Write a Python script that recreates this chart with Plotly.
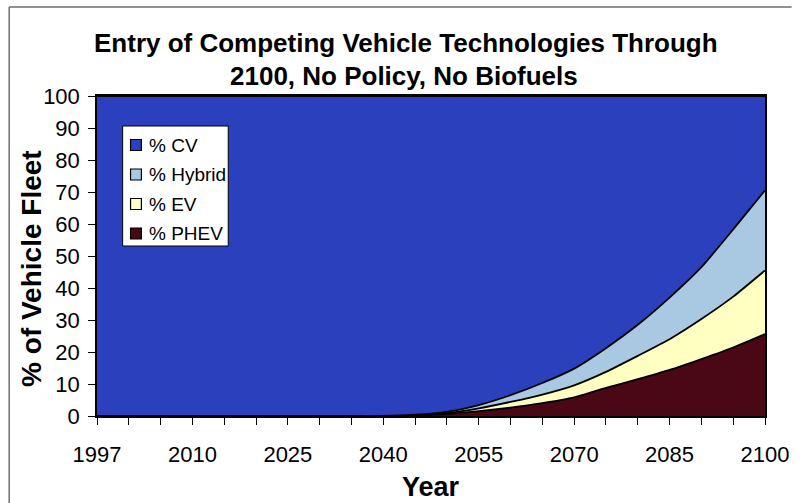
import plotly.graph_objects as go

# Fleet shares (%) by year, stacked from PHEV at the bottom up to CV
years = [1997, 2000, 2005, 2010, 2015, 2020, 2025, 2030, 2035, 2040, 2045,
         2050, 2055, 2060, 2065, 2070, 2075, 2080, 2085, 2090, 2095, 2100]
pct_cv = [100, 100, 100, 100, 100, 100, 100, 100, 100, 100, 99.6,
          98.7, 96.6, 93.5, 89.7, 85.2, 78.8, 71.5, 63.0, 53.5, 41.7, 29.5]
pct_hybrid = [0, 0, 0, 0, 0, 0, 0, 0, 0, 0, 0.1,
              0.4, 1.0, 2.1, 3.6, 5.2, 7.4, 9.7, 13.0, 16.2, 21.0, 25.0]
pct_ev = [0, 0, 0, 0, 0, 0, 0, 0, 0, 0, 0.1,
          0.3, 0.9, 1.8, 2.7, 3.8, 5.0, 7.3, 9.6, 12.5, 15.9, 19.9]
pct_phev = [0, 0, 0, 0, 0, 0, 0, 0, 0, 0, 0.2,
            0.6, 1.5, 2.6, 4.0, 5.8, 8.8, 11.5, 14.4, 17.8, 21.4, 25.6]

labeled_years = [1997, 2010, 2025, 2040, 2055, 2070, 2085, 2100]
y_ticks = [0, 10, 20, 30, 40, 50, 60, 70, 80, 90, 100]

# bottom-to-top stacking order
series = [
    ("% PHEV", pct_phev, "#4a0814"),
    ("% EV", pct_ev, "#ffffc2"),
    ("% Hybrid", pct_hybrid, "#a9c9e3"),
    ("% CV", pct_cv, "#2a40bd"),
]

idx = list(range(len(years)))

fig = go.Figure()
for name, vals, color in series:
    fig.add_trace(go.Scatter(
        x=idx, y=vals, name=name, mode="lines", stackgroup="fleet",
        line=dict(color="black", width=1.8, shape="spline", smoothing=0.5),
        fillcolor=color, showlegend=False,
    ))

W, H = 801, 503
L, R, T, B = 97, 27, 96, 87
pw, ph = W - L - R, H - T - B


def px(x):
    return (x - L) / pw


def py(y):
    return (H - B - y) / ph


base_font = "Liberation Sans, Arial, sans-serif"

annotations = [
    dict(text="<b>Entry of Competing Vehicle Technologies Through</b>",
         xref="paper", yref="paper", x=px(410), y=py(43),
         xanchor="center", yanchor="middle", showarrow=False,
         font=dict(size=26, family=base_font, color="black")),
    dict(text="<b>2100, No Policy, No Biofuels</b>",
         xref="paper", yref="paper", x=px(408), y=py(76),
         xanchor="center", yanchor="middle", showarrow=False,
         font=dict(size=26, family=base_font, color="black")),
    dict(text="<b>% of Vehicle Fleet</b>",
         xref="paper", yref="paper", x=px(30), y=py(268),
         xanchor="center", yanchor="middle", textangle=-90, showarrow=False,
         font=dict(size=28, family=base_font, color="black")),
    dict(text="<b>Year</b>",
         xref="paper", yref="paper", x=px(436), y=py(487),
         xanchor="center", yanchor="middle", showarrow=False,
         font=dict(size=27, family=base_font, color="black")),
]

shapes = [
    # outer frame (top and left edges)
    dict(type="line", xref="paper", yref="paper",
         x0=px(8), x1=px(801), y0=py(7), y1=py(7),
         line=dict(color="#6e6e6e", width=1.5)),
    dict(type="line", xref="paper", yref="paper",
         x0=px(8), x1=px(8), y0=py(7), y1=py(503),
         line=dict(color="#6e6e6e", width=1.5)),
    # legend box
    dict(type="rect", xref="paper", yref="paper",
         x0=px(123), x1=px(230), y0=py(126), y1=py(246),
         fillcolor="white", line=dict(color="black", width=1)),
]

# legend entries, top to bottom: CV, Hybrid, EV, PHEV
for k, (name, _, color) in enumerate(reversed(series)):
    cy = 145 + 29.5 * k
    shapes.append(dict(
        type="rect", xref="paper", yref="paper",
        x0=px(131), x1=px(142), y0=py(cy - 5.5), y1=py(cy + 5.5),
        fillcolor=color, line=dict(color="black", width=1.2)))
    annotations.append(dict(
        text=name, xref="paper", yref="paper", x=px(148), y=py(cy),
        xanchor="left", yanchor="middle", showarrow=False,
        font=dict(size=19, family=base_font, color="black")))

fig.update_layout(
    width=W, height=H,
    margin=dict(l=L, r=R, t=T, b=B),
    paper_bgcolor="white",
    plot_bgcolor="white",
    font=dict(family=base_font, color="black"),
    showlegend=False,
    xaxis=dict(
        range=[0, len(years) - 1],
        tickmode="array", tickvals=idx,
        ticktext=[str(y) if y in labeled_years else "" for y in years],
        ticks="outside", ticklen=7, tickcolor="black", tickwidth=1,
        showline=True, linecolor="black", linewidth=1.5, mirror=True,
        showgrid=False, zeroline=False,
        tickfont=dict(size=22, family=base_font, color="black"),
        ticklabelstandoff=11,
    ),
    yaxis=dict(
        range=[0, 100], tickmode="array", tickvals=y_ticks,
        ticks="outside", ticklen=7, tickcolor="black", tickwidth=1,
        showline=True, linecolor="black", linewidth=1.5, mirror=True,
        showgrid=False, zeroline=False,
        tickfont=dict(size=22, family=base_font, color="black"),
        ticklabelstandoff=4,
    ),
    annotations=annotations,
    shapes=shapes,
)

fig.write_html("out.html")
